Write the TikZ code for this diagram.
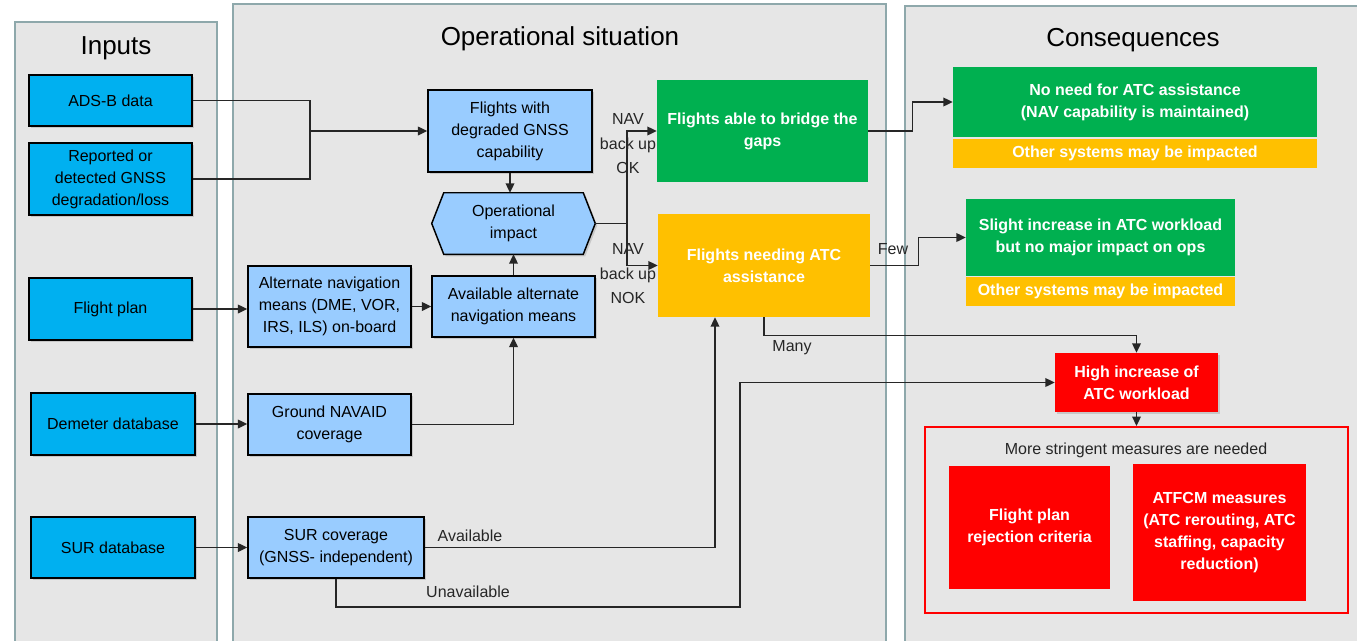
\documentclass[tikz,border=0pt]{standalone}
\usepackage{fontspec}
\setmainfont{Liberation Sans}
\usetikzlibrary{arrows.meta,shadows,calc}
\pgfdeclarelayer{panels}\pgfdeclarelayer{mid}\pgfsetlayers{panels,mid,main}
\definecolor{panelfill}{HTML}{E6E6E6}
\definecolor{panelline}{HTML}{8EA8AB}
\definecolor{inblue}{HTML}{00B0F0}
\definecolor{lblue}{HTML}{99CCFF}
\definecolor{okgreen}{HTML}{00B050}
\definecolor{warnorange}{HTML}{FFC000}
\definecolor{alarmred}{HTML}{FF0000}
\definecolor{linec}{HTML}{262626}
\tikzset{
  pbox/.style n args={4}{at={({(#1+#3)/2},{(#2+#4)/2})},
     minimum width={(#3-#1)*0.75pt}, minimum height={(#4-#2)*0.75pt}},
  base/.style={inner sep=0pt, align=center, font=\fontsize{12}{16.5}\selectfont},
  shad/.style={drop shadow={opacity=0.3, shadow xshift=1.5pt, shadow yshift=-1.5pt}},
  inbox/.style={base, draw=black, line width=1.1pt, fill=inblue, shad},
  lbbox/.style={inbox, fill=lblue},
  colbox/.style={base, text=white, font=\bfseries\fontsize{12}{16.5}\selectfont},
  panel/.style={fill=panelfill, draw=panelline, line width=2.2pt},
  ptitle/.style={font=\fontsize{19.5}{23}\selectfont, text=black},
  lbl/.style={font=\fontsize{12}{18.4}\selectfont, text=linec, align=center, inner sep=0pt},
  conn/.style={draw=linec, line width=1pt},
  arr/.style={conn, -{Triangle[length=7pt,width=6.5pt]}}
}
\begin{document}
\begin{tikzpicture}[x=0.75pt, y=-0.75pt]
\useasboundingbox (0,0) rectangle (1357,640);
\begin{pgfonlayer}{panels}
  \begin{scope}
    \clip (0,0) rectangle (1357,640);
    \fill[white] (0,0) rectangle (1357,640);
    \filldraw[panel] (15,22) rectangle (217,650);
    \filldraw[panel] (233,4) rectangle (886,650);
    \filldraw[panel] (905,6) rectangle (1380,650);
  \end{scope}
\end{pgfonlayer}

% titles
\node[ptitle] (tin) at (116,48) {Inputs};
\node[ptitle] (top) at (560,39) {Operational situation};
\node[ptitle] (tco) at (1133,40) {Consequences};

% inputs
\node[inbox, pbox={29}{75}{192}{126}] (adsb) {ADS-B data};
\node[inbox, pbox={29}{143}{192}{215}] (rep) {Reported or\\detected GNSS\\degradation/loss};
\node[inbox, pbox={29}{278}{192}{340}] (fp) {Flight plan};
\node[inbox, pbox={31}{393}{195}{455}] (dem) {Demeter database};
\node[inbox, pbox={31}{517}{195}{578}] (surdb) {SUR database};

% operational situation
\node[lbbox, pbox={428}{90}{592}{172}] (flt) {Flights with\\degraded GNSS\\capability};
\node[base, pbox={432}{193}{595}{254}] (imp) {Operational\\impact};
\begin{pgfonlayer}{mid}
  \filldraw[fill=lblue, draw=black, line width=1.1pt, shad]
    (imp.west) -- ([xshift=9pt]imp.north west) -- ([xshift=-9pt]imp.north east)
    -- (imp.east) -- ([xshift=-9pt]imp.south east) -- ([xshift=9pt]imp.south west) -- cycle;
\end{pgfonlayer}
\node[lbbox, pbox={248}{266}{411}{347}] (alt) {Alternate navigation\\means (DME, VOR,\\IRS, ILS) on-board};
\node[lbbox, pbox={432}{276}{595}{337}] (avail) {Available alternate\\navigation means};
\node[lbbox, pbox={248}{394}{411}{455}] (gnd) {Ground NAVAID\\coverage};
\node[lbbox, pbox={248}{517}{424}{578}] (surc) {SUR coverage\\(GNSS- independent)};

\node[colbox, fill=okgreen, pbox={657}{80}{868}{182}] (bridge) {Flights able to bridge the\\gaps};
\node[colbox, fill=warnorange, pbox={658}{214}{870}{317}] (need) {Flights needing ATC\\assistance};

% consequences
\node[colbox, fill=okgreen, pbox={953}{67}{1317}{137}] (noneed) {No need for ATC assistance\\(NAV capability is maintained)};
\node[colbox, fill=warnorange, pbox={953}{139}{1317}{168}] (os1) {Other systems may be impacted};
\node[colbox, fill=okgreen, pbox={966}{199}{1235}{276}] (slight) {Slight increase in ATC workload\\but no major impact on ops};
\node[colbox, fill=warnorange, pbox={966}{277}{1235}{306}] (os2) {Other systems may be impacted};
\node[colbox, fill=alarmred, shad, pbox={1055}{353}{1218}{412}] (high) {High increase of\\ATC workload};
\node[base, draw=alarmred, line width=1.6pt, pbox={925}{427}{1348}{613}] (meas) {};
\node[lbl] (meastitle) at (1136,450) {More stringent measures are needed};
\node[colbox, fill=alarmred, pbox={949}{466}{1110}{589}] (fprej) {Flight plan\\rejection criteria};
\node[colbox, fill=alarmred, pbox={1133}{464}{1306}{601}] (atfcm) {ATFCM measures\\(ATC rerouting, ATC\\staffing, capacity\\reduction)};

% connectors
\coordinate (jn) at (310,0 |- flt.west);
\draw[conn] (adsb.east) -| (jn);
\draw[conn] (rep.east) -| (jn);
\draw[arr] (jn) -- (flt.west);
\draw[arr] (flt.south) -- (flt.south |- imp.north);
\draw[arr] (avail.north) -- (imp.south);
\coordinate (sp) at (627,0 |- imp.east);
\draw[conn] (imp.east) -- (sp);
\draw[arr] (sp) |- (bridge.west);
\draw[arr] (sp) |- (need.west);
\node[lbl] (okl) at (628,144) {NAV\\back up\\OK};
\node[lbl] (nokl) at (628,274) {NAV\\back up\\NOK};
\draw[arr] (bridge.east) -- ++(44,0) |- (noneed.west);
\draw[arr] (need.east) -- ++(48,0) |- (slight.west);
\node[lbl] (fewl) at (893,249) {Few};
\draw[arr] (need.south) -- ++(0,18) -| (high.north);
\node[lbl] (manyl) at (792,348) {Many};
\draw[arr] (surc.east) -| (715,0 |- need.south);
\node[lbl] (availl) at (470,536) {Available};
\draw[arr] (surc.south) |- (740,607) |- (high.west);
\node[lbl] (unavl) at (468,592) {Unavailable};
\draw[arr] (high.south) -- (meas.north);
\draw[arr] (fp.east) -- (fp.east -| alt.west);
\draw[arr] (alt.east) -- (alt.east -| avail.west);
\draw[arr] (dem.east) -- (dem.east -| gnd.west);
\draw[arr] (gnd.east) -| (avail.south);
\draw[arr] (surdb.east) -- (surdb.east -| surc.west);
\end{tikzpicture}
\end{document}
